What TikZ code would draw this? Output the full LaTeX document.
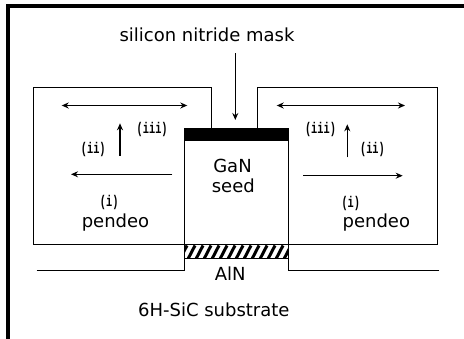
\documentclass[tikz,border=0pt]{standalone}
\usepackage{fontspec}
\setmainfont{DejaVu Sans}
\newfontfamily\numfont{Liberation Mono}
\usetikzlibrary{arrows.meta}
\tikzset{
  outline/.style={line width=1.2pt, line join=miter},
  arr/.style={line width=1.3pt, -{Stealth[length=7pt,width=6pt]}},
  darr/.style={line width=1.3pt, {Stealth[length=7pt,width=6pt]}-{Stealth[length=7pt,width=6pt]}},
  lbl/.style={inner sep=0pt, font=\fontsize{18}{20}\selectfont},
  num/.style={inner sep=0pt, font=\numfont\bfseries\fontsize{10.3}{12}\selectfont}
}
\newcommand{\nm}[1]{\scalebox{1}[1.5]{#1}}
\begin{document}
\begin{tikzpicture}[x=1pt,y=-1pt]
\useasboundingbox (0,0) rectangle (464,339);
% frame
\fill[black] (6,4) rectangle (464,8);
\fill[black] (6,4) rectangle (9.5,339);
% left pendeo box
\draw[outline] (184.3,244.3) -- (33.3,244.3) -- (33.3,87.7) -- (211.7,87.7) -- (211.7,127.7);
% right pendeo box
\draw[outline] (288.3,244.3) -- (437.7,244.3) -- (437.7,87.7) -- (257.7,87.7) -- (257.7,127.7);
% mask
\fill[black] (184.3,127.7) rectangle (288.3,141);
% seed and substrate
\draw[outline] (36.7,270.8) -- (184.3,270.8) -- (184.3,127.7);
\draw[outline] (439.3,270.8) -- (288.3,270.8) -- (288.3,127.7);
\draw[outline] (184.3,244.3) -- (288.3,244.3);
% AlN hatch
\begin{scope}
\clip (184.3,246) rectangle (288.3,258.5);
\foreach \k in {0,...,14} {
  \draw[line width=3pt] (180+\k*8,259) -- (187+\k*8,245.5);
}
\end{scope}
\draw[outline] (184.3,258.5) -- (288.3,258.5);
% labels
\node[lbl, anchor=base] (mask) at (207,41.7) {silicon nitride mask};
\node[lbl, anchor=base] (gan) at (232.5,172.7) {GaN};
\node[lbl, anchor=base] (seed) at (233.3,192.3) {seed};
\node[lbl, anchor=base] (aln) at (230.3,281) {AlN};
\node[lbl, anchor=base] (sub) at (213.8,316.7) {6H-SiC substrate};
\node[lbl, anchor=base] (pl) at (115.5,228) {pendeo};
\node[lbl, anchor=base] (pr) at (376.3,228) {pendeo};
\node[num] (il) at (109.2,202.5) {\nm{(i)}};
\node[num] (iil) at (93.3,150) {\nm{(ii)}};
\node[num] (iiil) at (152.2,129.7) {\nm{(iii)}};
\node[num] (ir) at (350.8,204) {\nm{(i)}};
\node[num] (iir) at (372.5,149.3) {\nm{(ii)}};
\node[num] (iiir) at (320.5,129.7) {\nm{(iii)}};
% arrow coordinates
\coordinate (mA) at (235.3,53.3);
\coordinate (mB) at (235.3,120);
\coordinate (ldA) at (61.7,105.5);
\coordinate (ldB) at (187.3,105.5);
\coordinate (luA) at (120,156);
\coordinate (luB) at (120,123.3);
\coordinate (llA) at (172.3,174.3);
\coordinate (llB) at (71,174.3);
\coordinate (rdA) at (276.7,105.5);
\coordinate (rdB) at (405,105.5);
\coordinate (ruA) at (347.3,157.3);
\coordinate (ruB) at (347.3,124.3);
\coordinate (rrA) at (303.3,175.7);
\coordinate (rrB) at (402.7,175.7);
\draw[arr] (mA) -- (mB);
\draw[darr] (ldA) -- (ldB);
\draw[arr] (luA) -- (luB);
\draw[arr] (llA) -- (llB);
\draw[darr] (rdA) -- (rdB);
\draw[arr] (ruA) -- (ruB);
\draw[arr] (rrA) -- (rrB);
\end{tikzpicture}
\end{document}
